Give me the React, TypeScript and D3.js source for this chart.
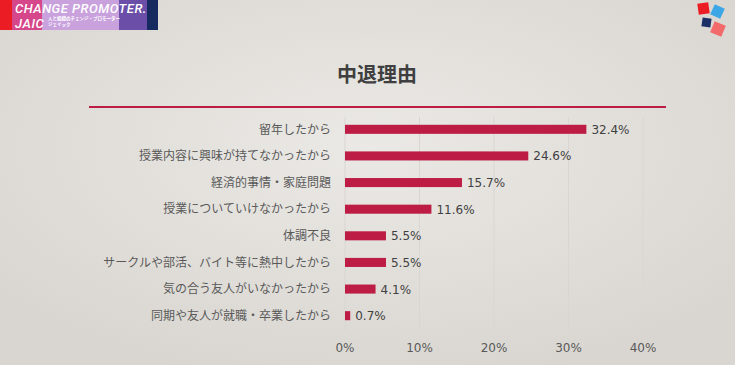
import * as d3 from 'd3'

const categories = [
  '留年したから',
  '授業内容に興味が持てなかったから',
  '経済的事情・家庭問題',
  '授業についていけなかったから',
  '体調不良',
  'サークルや部活、バイト等に熱中したから',
  '気の合う友人がいなかったから',
  '同期や友人が就職・卒業したから',
]
const values = [32.4, 24.6, 15.7, 11.6, 5.5, 5.5, 4.1, 0.7]
const ticks = [0, 10, 20, 30, 40]

const W = 735
const H = 365
const jp = '"Noto Sans CJK JP", "Noto Sans", sans-serif'
const num = '"DejaVu Sans", sans-serif'
const red = '#bd1d45'

export default function App() {
  const x = d3.scaleLinear().domain([0, 40]).range([345, 643])
  const y = d3.scaleBand().domain(categories).range([116, 329]).paddingInner(0.66).paddingOuter(0.33)

  return (
    <svg width={W} height={H} style={{ position: 'absolute', left: 0, top: 0 }}>
      <defs>
        <radialGradient id="bg" cx="50%" cy="40%" r="65%">
          <stop offset="0%" stopColor="#ebe9e5" />
          <stop offset="100%" stopColor="#d9d6d1" />
        </radialGradient>
      </defs>
      <rect width={W} height={H} fill="url(#bg)" />

      {/* logo */}
      <rect x={0} y={0} width={12} height={30} fill="#ec1c24" />
      <rect x={12} y={0} width={30} height={30} fill="#d6468a" />
      <rect x={42} y={0} width={77} height={30} fill="#c9a2dd" />
      <rect x={119} y={0} width={28} height={30} fill="#6a4ea7" />
      <rect x={147} y={0} width={11} height={30} fill="#172a5f" />
      <text x={15} y={13} fill="#fff" fontFamily="Roboto, sans-serif" fontSize={13} fontStyle="italic" fontWeight={500} letterSpacing={0.5}>CHANGE PROMOTER.</text>
      <text x={15} y={28} fill="#fff" fontFamily="Roboto, sans-serif" fontSize={13} fontStyle="italic" fontWeight={500} letterSpacing={0.6}>JAIC</text>
      <text x={48} y={20} fill="#fff" fontFamily={jp} fontSize={4.5} fontWeight={700}>人と組織のチェンジ・プロモーター</text>
      <text x={48} y={26} fill="#fff" fontFamily={jp} fontSize={4.5} fontWeight={700}>ジェイック</text>

      {/* corner squares */}
      <rect x={698} y={3} width={11} height={11} fill="#ec1c24" transform="rotate(-8 703.5 8.5)" />
      <rect x={712} y={6} width={11} height={11} fill="#3da6e6" transform="rotate(25 717.5 11.5)" />
      <rect x={702} y={18} width={9} height={9} fill="#1b2f66" transform="rotate(8 706.5 22.5)" />
      <rect x={712} y={23} width={12} height={12} fill="#f26a6a" transform="rotate(22 718 29)" />

      <text x={377} y={82} textAnchor="middle" fontFamily={jp} fontSize={20} fontWeight={700} fill="#3f3f3f">中退理由</text>
      <rect x={89} y={106} width={577} height={2} fill={red} />

      {ticks.map((t) => (
        <line key={t} x1={x(t)} x2={x(t)} y1={117} y2={330} stroke="#d9d6d1" strokeWidth={1} />
      ))}

      {categories.map((c, i) => {
        const yy = y(c) || 0
        const cy = yy + y.bandwidth() / 2
        return (
          <g key={c}>
            <rect x={x(0)} y={yy} width={x(values[i]) - x(0)} height={y.bandwidth()} fill={red} />
            <text x={331} y={cy} dy="0.35em" textAnchor="end" fontFamily={jp} fontSize={12} fill="#595959">{c}</text>
            <text x={x(values[i]) + 5} y={cy} dy="0.38em" fontFamily={num} fontSize={12} fill="#404040">{values[i].toFixed(1)}%</text>
          </g>
        )
      })}

      {ticks.map((t) => (
        <text key={t} x={x(t)} y={348} dy="0.35em" textAnchor="middle" fontFamily={num} fontSize={12} fill="#595959">{t}%</text>
      ))}
    </svg>
  )
}
